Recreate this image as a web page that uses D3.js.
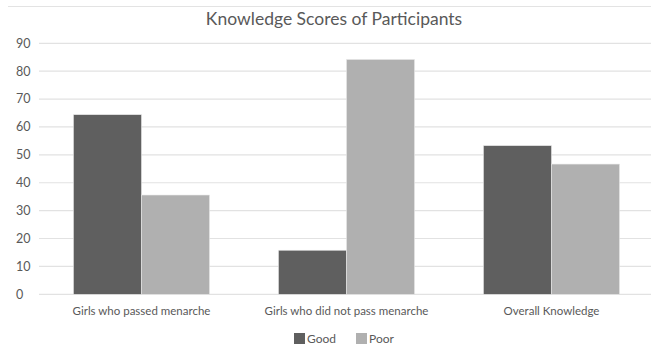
<!DOCTYPE html>
<html><head><meta charset="utf-8">
<script src="https://cdn.jsdelivr.net/npm/d3@7"></script>
<style>body{margin:0;background:#fff;} text{font-family:Lato,"Open Sans",sans-serif;}</style>
</head><body><svg id="c" width="651" height="349"></svg>
<script>
const categories = ["Girls who passed menarche", "Girls who did not pass menarche", "Overall Knowledge"];
const seriesNames = ["Good", "Poor"];
const good = [64.4, 15.8, 53.3];
const poor = [35.6, 84.2, 46.7];
const yTicks = [0,10,20,30,40,50,60,70,80,90];
const colors = ["#5f5f5f", "#b0b0b0"];
const title = "Knowledge Scores of Participants";

(function(){
const svg = d3.select("#c");
const pLeft = 39, pRight = 654, pTop = 43.3, pBottom = 294.3;
const x = d3.scaleBand().domain(categories).range([pLeft, pRight]).paddingInner(0.336).paddingOuter(0.168);
const xs = d3.scaleBand().domain(seriesNames).range([0, x.bandwidth()]);
const y = d3.scaleLinear().domain([0, 90]).range([pBottom, pTop]);

// chart border top
svg.append("line").attr("x1", 8).attr("x2", 651).attr("y1", 6.5).attr("y2", 6.5).attr("stroke", "#e3e3e3").attr("stroke-width", 1);

// gridlines
svg.append("g").selectAll("line").data(yTicks).join("line")
  .attr("x1", pLeft).attr("x2", 651)
  .attr("y1", d => y(d)).attr("y2", d => y(d))
  .attr("stroke", "#e2e2e2").attr("stroke-width", 1.2);

// y tick labels
svg.append("g").selectAll("text").data(yTicks).join("text")
  .attr("x", 16).attr("y", d => y(d)).attr("dy", "0.35em")
  .attr("fill", "#595959").attr("font-size", 12.5).text(d => d);

// bars
const rows = categories.map((c, i) => ({c, vals: [good[i], poor[i]]}));
const g = svg.append("g");
rows.forEach(r => {
  g.selectAll(null).data(r.vals.map((v, j) => ({s: seriesNames[j], v, j}))).join("rect")
    .attr("x", d => x(r.c) + xs(d.s))
    .attr("y", d => y(d.v))
    .attr("width", xs.bandwidth())
    .attr("height", d => y(0) - y(d.v))
    .attr("fill", d => colors[d.j])
    .attr("stroke", "#e8e8e8").attr("stroke-width", 0.6);
});

// x labels
svg.append("g").selectAll("text").data(categories).join("text")
  .attr("x", d => x(d) + x.bandwidth() / 2).attr("y", 311).attr("dy", "0.35em")
  .attr("text-anchor", "middle").attr("fill", "#595959").attr("font-size", 11.5)
  .text(d => d);

// title
svg.append("text").attr("x", 334).attr("y", 19).attr("dy", "0.35em")
  .attr("text-anchor", "middle").attr("fill", "#595959").attr("font-size", 17.5).text(title);

// legend
const leg = svg.append("g");
const legX = [294, 356];
seriesNames.forEach((s, j) => {
  leg.append("rect").attr("x", legX[j]).attr("y", 333).attr("width", 11).attr("height", 11).attr("fill", colors[j]);
  leg.append("text").attr("x", legX[j] + 13).attr("y", 338.5).attr("dy", "0.35em")
    .attr("fill", "#595959").attr("font-size", 12).text(s);
});
})();
</script></body></html>
